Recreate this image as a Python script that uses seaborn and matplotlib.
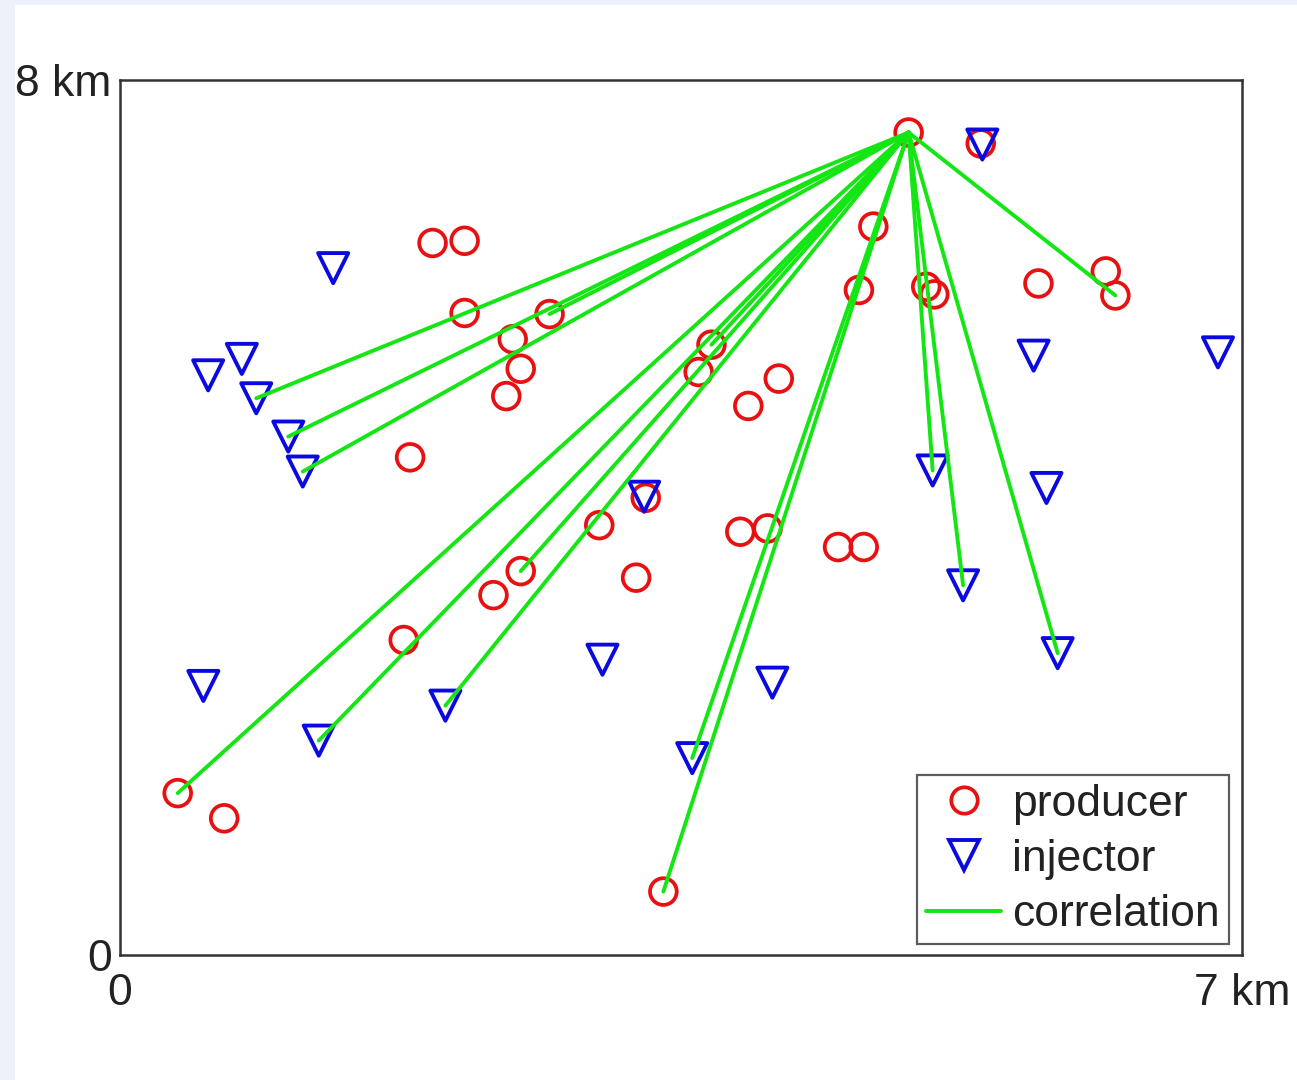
import pandas as pd
import numpy as np
import matplotlib
matplotlib.use("Agg")
import matplotlib.pyplot as plt
from matplotlib.lines import Line2D
from matplotlib.patches import Rectangle
import seaborn as sns

# well positions in km
prod_x = [4.92, 5.37, 1.95, 2.15, 2.15, 2.68, 2.45, 2.50, 2.41, 1.81,
          4.70, 4.61, 5.03, 5.08, 5.73, 6.15, 6.21, 3.69, 3.61, 4.11,
          3.92, 2.99, 3.28, 2.50, 2.33, 3.22, 1.77, 3.87, 4.04, 4.48,
          4.64, 0.36, 0.65, 3.39]
prod_y = [7.52, 7.42, 6.51, 6.53, 5.87, 5.86, 5.63, 5.36, 5.11, 4.55,
          6.66, 6.08, 6.11, 6.04, 6.14, 6.25, 6.03, 5.58, 5.33, 5.27,
          5.02, 3.93, 4.18, 3.51, 3.29, 3.45, 2.88, 3.87, 3.90, 3.73,
          3.73, 1.48, 1.25, 0.58]

inj_x = [5.38, 1.33, 0.76, 0.55, 0.85, 1.05, 1.14, 5.70, 6.85, 5.07,
         5.78, 3.27, 5.26, 5.85, 0.52, 3.01, 4.07, 2.03, 1.24, 3.57]
inj_y = [7.41, 6.28, 5.45, 5.30, 5.09, 4.74, 4.42, 5.48, 5.51, 4.43,
         4.27, 4.19, 3.38, 2.76, 2.46, 2.70, 2.49, 2.28, 1.96, 1.80]

# correlations all start from one producer
hub_x, hub_y = 4.92, 7.52
corr_x = [0.85, 1.05, 1.14, 1.24, 2.03, 3.57, 5.07, 5.26, 5.85,
          0.36, 2.68, 2.50, 3.69, 3.39, 6.21]
corr_y = [5.09, 4.74, 4.42, 1.96, 2.28, 1.80, 4.43, 3.38, 2.76,
          1.48, 5.86, 3.51, 5.58, 0.58, 6.03]

RED = "#e81010"
BLUE = "#0a0ae0"
GREEN = "#14e614"

sns.set_style("white")
plt.rcParams["font.family"] = ["Liberation Sans", "DejaVu Sans"]

fig = plt.figure(figsize=(12.97, 10.80), dpi=100, facecolor="#edf2fa")
fig.patches.append(Rectangle((15 / 1297, 0), 1, 1 - 5 / 1080,
                             transform=fig.transFigure, facecolor="white",
                             edgecolor="none", zorder=-1))
ax = fig.add_axes([120 / 1297, 1 - 955 / 1080, 1122 / 1297, 875 / 1080])
ax.set_zorder(1)

prod = pd.DataFrame({"x": prod_x, "y": prod_y})
inj = pd.DataFrame({"x": inj_x, "y": inj_y})

sns.scatterplot(data=prod, x="x", y="y", marker="o", s=370, facecolor="none",
                edgecolor=RED, linewidth=2.7, ax=ax, zorder=3)
sns.scatterplot(data=inj, x="x", y="y", marker="v", s=470, facecolor="none",
                edgecolor=BLUE, linewidth=2.8, ax=ax, zorder=4)

rows = []
for i, (cx, cy) in enumerate(zip(corr_x, corr_y)):
    rows.append((hub_x, hub_y, i))
    rows.append((cx, cy, i))
links = pd.DataFrame(rows, columns=["x", "y", "link"])
sns.lineplot(data=links, x="x", y="y", units="link", estimator=None, sort=False,
             color=GREEN, lw=2.8, legend=False, ax=ax, zorder=5)

ax.set_xlim(0, 7)
ax.set_ylim(0, 8)
ax.set_xticks([0, 7])
ax.set_xticklabels(["0", "7 km"])
ax.set_yticks([0, 8])
ax.set_yticklabels(["0", "8 km"])
ax.tick_params(axis="both", length=0, labelsize=32, colors="#222222")
ax.tick_params(axis="x", pad=13)
ax.tick_params(axis="y", pad=6)
ax.set_xlabel("")
ax.set_ylabel("")
for sp in ax.spines.values():
    sp.set_color("#333333")
    sp.set_linewidth(1.8)

handles = [
    Line2D([], [], ls="none", marker="o", markersize=19, markerfacecolor="none",
           markeredgecolor=RED, markeredgewidth=2.7),
    Line2D([], [], ls="none", marker="v", markersize=21, markerfacecolor="none",
           markeredgecolor=BLUE, markeredgewidth=2.8),
    Line2D([], [], color=GREEN, lw=2.8),
]
leg = ax.legend(handles, ["producer", "injector", "correlation"],
                loc="lower right", bbox_to_anchor=(0.9884, 0.0126),
                borderaxespad=0, fontsize=32, frameon=True, fancybox=False,
                handlelength=1.7, handletextpad=0.25, labelspacing=0.32,
                borderpad=0.2)
leg.get_frame().set_edgecolor("#333333")
leg.get_frame().set_linewidth(1.6)
for t in leg.get_texts():
    t.set_color("#222222")

fig.savefig("out.png", dpi=100, facecolor=fig.get_facecolor())
